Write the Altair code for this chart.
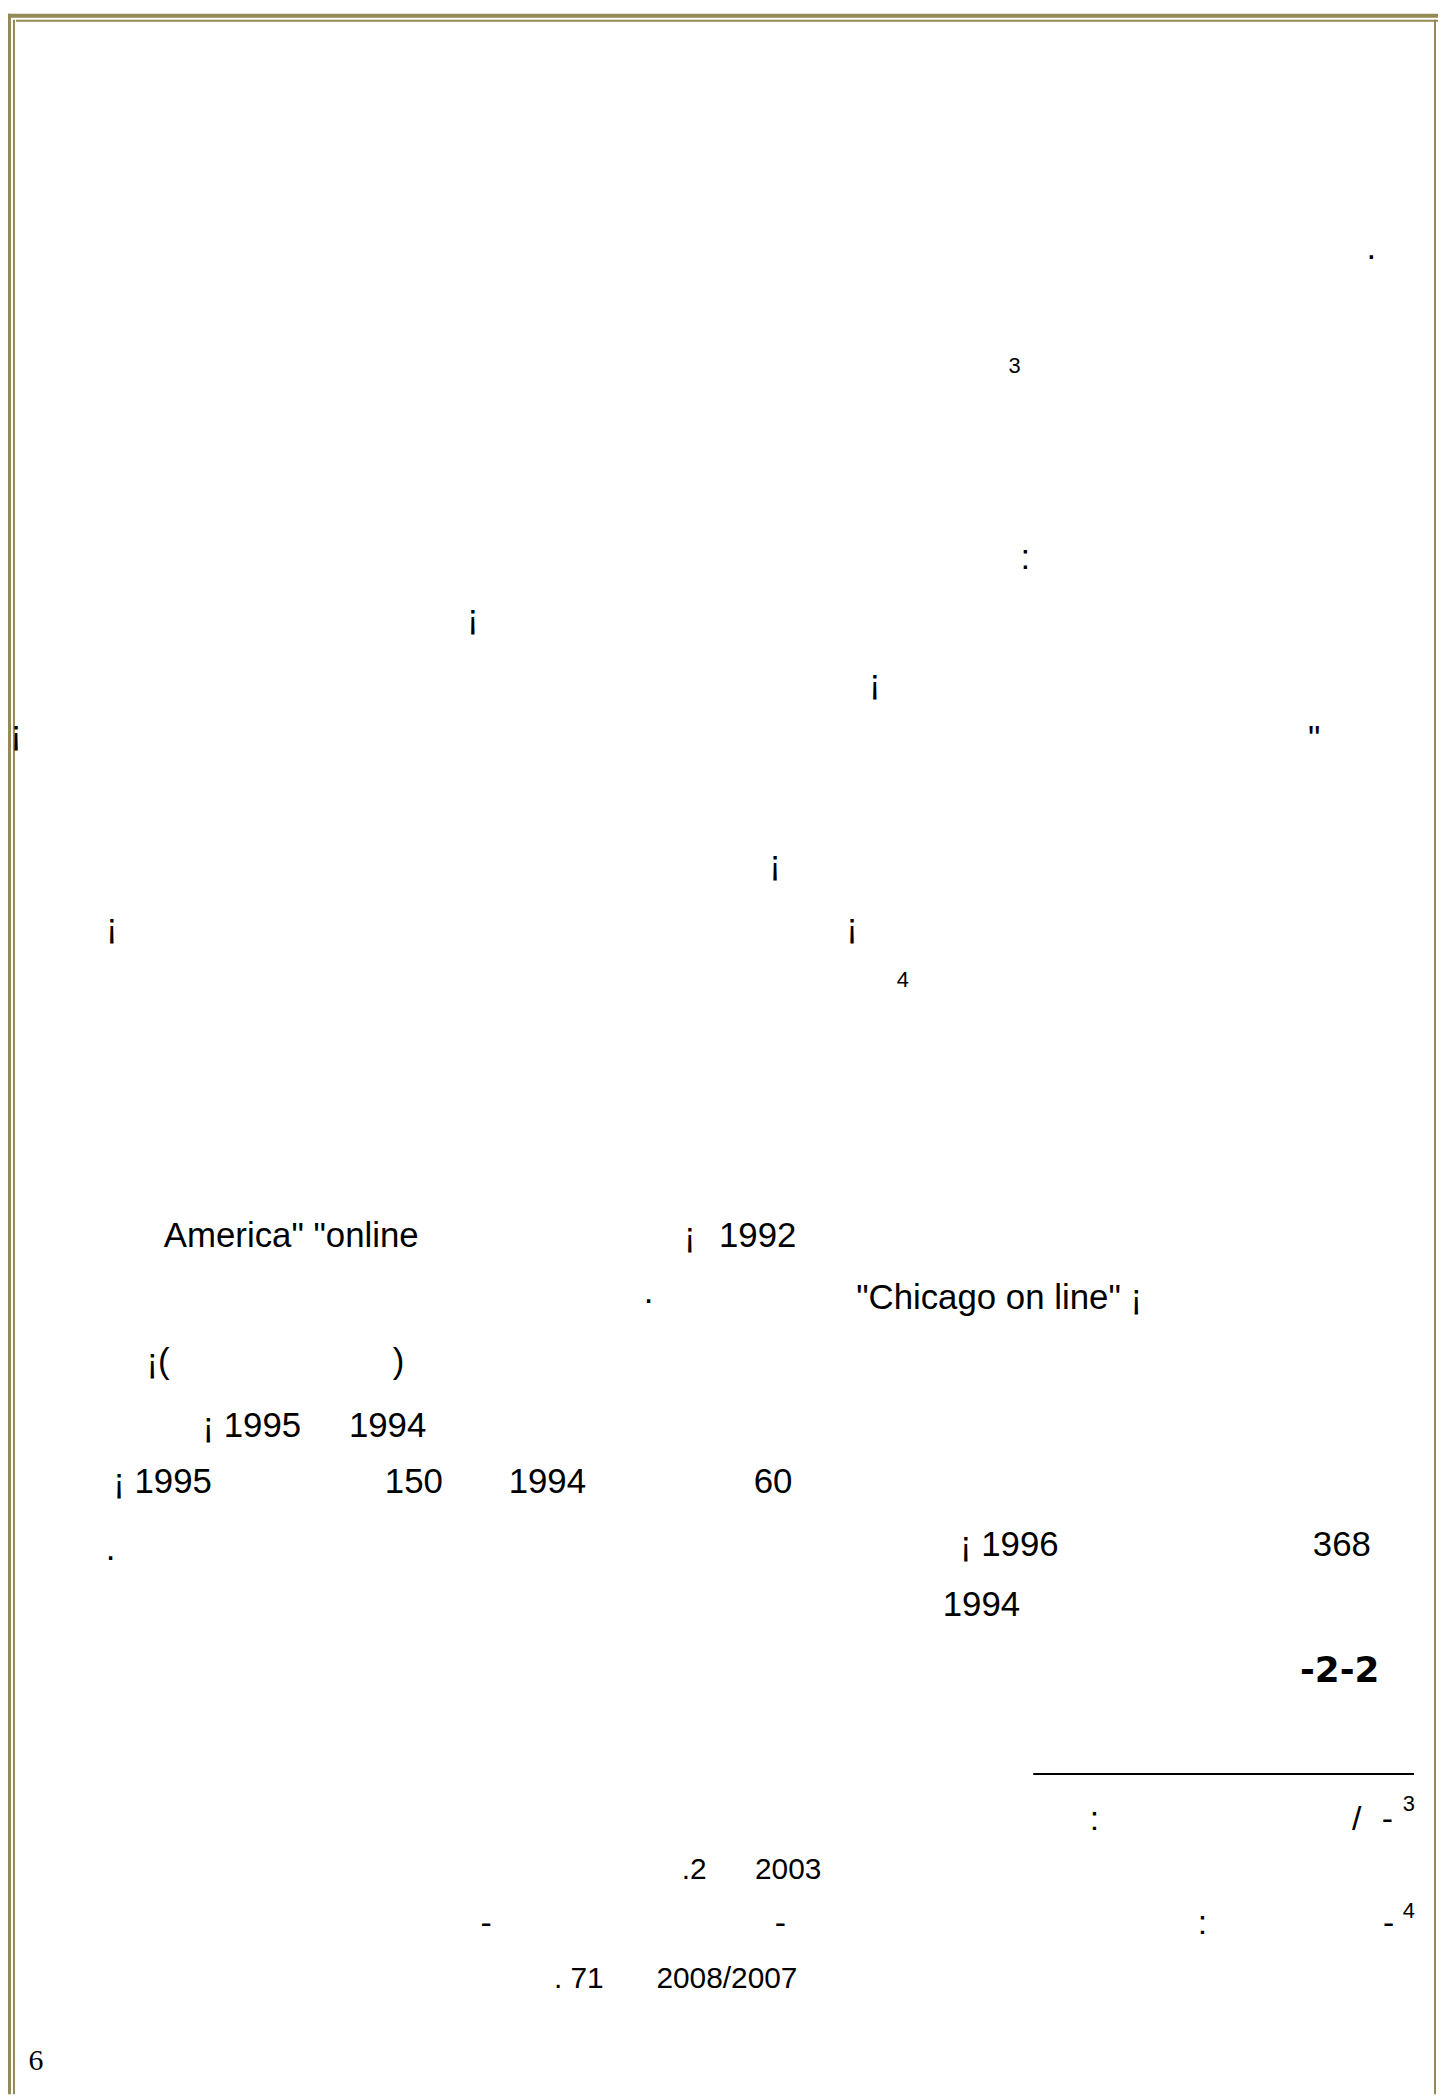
import altair as alt
import pandas as pd

# Reference positions read from the 1080-wide preview, converted to page pixels
S = 1446 / 1080

# ---- body: isolated single glyphs (centre x, baseline y)
single_text = [".", ":", "¡", "¡", "¡", '"', "¡", "¡", "¡", ".", ".", "¡"]
single_x = [1030, 770, 355, 657, 12, 987, 582, 84, 640, 487, 83, 518]
single_y = [190, 423, 468, 517, 555, 559, 653, 700, 700, 974, 1167, 932]

# ---- body: phrases (left x, baseline y)
phrase_text = ['America" "online', "1992", '"Chicago on line" ¡', "¡(", ")",
               "¡ 1995", "1994", "¡ 1995", "150", "1994", "60",
               "¡ 1996", "368", "1994"]
phrase_x = [123, 540, 643, 110, 295, 152, 262, 85, 289, 382, 566, 721, 986, 708]
phrase_y = [932, 932, 979, 1027, 1027, 1075, 1075, 1117, 1117, 1117, 1117,
            1164, 1164, 1209]

# ---- section number (right x, baseline)
heading_text = ["-2-2"]
heading_x = [1036]
heading_y = [1259]

# ---- superscript note markers (centre x, baseline)
sup_text = ["3", "4", "3", "4"]
sup_x = [762, 678, 1058, 1058]
sup_y = [276, 737, 1356, 1436]

# ---- footnotes: digits (left x, baseline)
foot_text = [".2", "2003", ". 71", "2008/2007"]
foot_x = [512, 567, 416, 493]
foot_y = [1407, 1407, 1489, 1489]

# ---- footnotes: punctuation (centre x, baseline)
punct_text = [":", "/", "-", "-", "-", ":", "-"]
punct_x = [822, 1019, 1042, 365, 586, 903, 1043]
punct_y = [1370, 1370, 1370, 1448, 1448, 1448, 1448]

page_text = ["6"]
page_x = [27]
page_y = [1550]


def frame(t, xs, ys):
    return pd.DataFrame({"t": t, "x": [v * S for v in xs], "y": [v * S for v in ys]})


X = alt.X("x:Q", scale=alt.Scale(domain=[8, 1446]), axis=None)
Y = alt.Y("y:Q", scale=alt.Scale(domain=[8, 2100], reverse=True), axis=None)
SANS = "Liberation Sans, Arial, sans-serif"

singles = alt.Chart(frame(single_text, single_x, single_y)).mark_text(
    font=SANS, fontSize=35, align="center", baseline="alphabetic", color="black"
).encode(x=X, y=Y, text="t:N")

phrases = alt.Chart(frame(phrase_text, phrase_x, phrase_y)).mark_text(
    font=SANS, fontSize=35, align="left", baseline="alphabetic", color="black"
).encode(x=X, y=Y, text="t:N")

heading = alt.Chart(frame(heading_text, heading_x, heading_y)).mark_text(
    font="DejaVu Sans, sans-serif", fontSize=36, fontWeight="bold", align="right",
    baseline="alphabetic", color="black"
).encode(x=X, y=Y, text="t:N")

sups = alt.Chart(frame(sup_text, sup_x, sup_y)).mark_text(
    font=SANS, fontSize=22, align="center", baseline="alphabetic", color="black"
).encode(x=X, y=Y, text="t:N")

foot = alt.Chart(frame(foot_text, foot_x, foot_y)).mark_text(
    font=SANS, fontSize=30, align="left", baseline="alphabetic", color="black"
).encode(x=X, y=Y, text="t:N")

punct = alt.Chart(frame(punct_text, punct_x, punct_y)).mark_text(
    font=SANS, fontSize=34, align="center", baseline="alphabetic", color="black"
).encode(x=X, y=Y, text="t:N")

page = alt.Chart(frame(page_text, page_x, page_y)).mark_text(
    font="Liberation Serif, Times New Roman, serif", fontSize=30, align="center",
    baseline="alphabetic", color="black"
).encode(x=X, y=Y, text="t:N")

# footnote separator rule
sep = alt.Chart(pd.DataFrame({"x": [776 * S], "x2": [1062 * S], "y": [1328 * S]})).mark_rule(
    color="black", strokeWidth=2
).encode(x=X, x2="x2:Q", y=Y)

# decorative olive page frame (pixel offsets inside the view)
OLIVE = "#948A54"
frame_parts = [
    dict(x=0, x2=1438, y=0, y2=4),       # top band
    dict(x=8, x2=1438, y=6, y2=8),       # top inner line
    dict(x=0, x2=3, y=0, y2=2092),       # left band
    dict(x=5, x2=7, y=6, y2=2092),       # left inner line
    dict(x=1434, x2=1436, y=6, y2=2092)  # right line
]
borders = [
    alt.Chart(pd.DataFrame({"k": [0]})).mark_rect(color=OLIVE).encode(
        x=alt.value(p["x"]), x2=alt.value(p["x2"]), y=alt.value(p["y"]), y2=alt.value(p["y2"])
    )
    for p in frame_parts
]

chart = alt.layer(
    *borders, sep, singles, phrases, heading, sups, foot, punct, page
).properties(
    width=1438, height=2092, padding=0, autosize=alt.AutoSizeParams(type="none"),
    background="white"
).configure_view(stroke=None)

chart.save("out.html", embed_options={"renderer": "svg", "actions": False})
